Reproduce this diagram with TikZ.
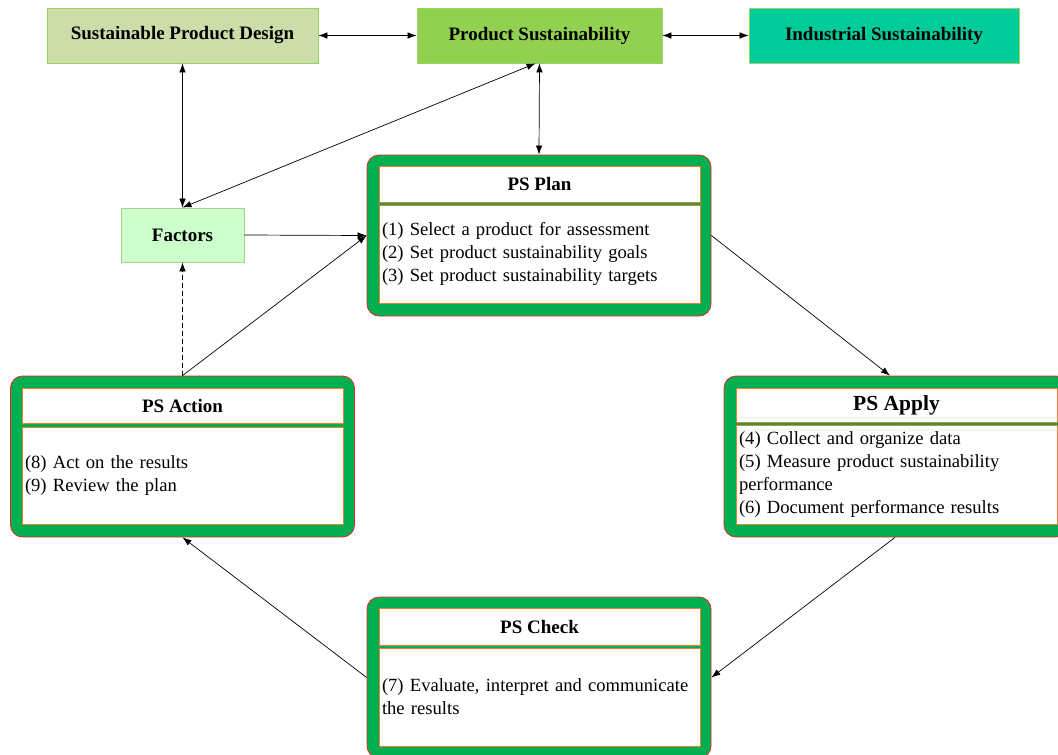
\documentclass[tikz,border=0pt]{standalone}
\usepackage{fontspec}
\setmainfont{Liberation Serif}
\usetikzlibrary{arrows.meta}

\definecolor{spdfill}{RGB}{205,221,170}
\definecolor{psfill}{RGB}{146,208,80}
\definecolor{isfill}{RGB}{0,204,153}
\definecolor{factfill}{RGB}{204,255,204}
\definecolor{lightedge}{RGB}{150,212,100}
\definecolor{factedge}{RGB}{169,209,142}
\definecolor{phasegreen}{RGB}{0,176,80}
\definecolor{phaseedge}{RGB}{230,40,40}
\definecolor{inneredge}{RGB}{237,125,49}

\newcommand{\txtfont}{\fontsize{19}{23}\selectfont}
\newcommand{\bodyfont}{\fontsize{18.6}{23}\selectfont}

\begin{document}
\begin{tikzpicture}[x=1pt,y=-1pt,
  topbox/.style={draw=lightedge, line width=0.8pt, inner sep=0pt,
    font=\bfseries\txtfont},
  phasebox/.style={draw=phaseedge, fill=phasegreen, line width=0.8pt,
    rounded corners=12pt, minimum width=344pt, minimum height=161pt, inner sep=0pt},
  phasehead/.style={draw=inneredge, fill=white, line width=0.8pt,
    minimum width=321pt, inner sep=0pt, font=\bfseries\txtfont},
  phasebody/.style={draw=inneredge, fill=white, line width=0.8pt,
    text width=315pt, inner sep=3pt, minimum height=98pt, align=left, font=\bodyfont},
  link/.style={line width=0.7pt, -{Latex[length=9pt,width=6.5pt]}},
  biglink/.style={line width=0.7pt, {Latex[length=9pt,width=6.5pt]}-{Latex[length=9pt,width=6.5pt]}}
]
\useasboundingbox (0,0) rectangle (1058,755);
\clip (0,0) rectangle (1058,755);

% top row
\node[topbox, fill=spdfill, minimum width=271pt, minimum height=55pt] (spd) at (182.5,35.5) {Sustainable Product Design};
\node[topbox, fill=psfill, minimum width=245pt, minimum height=55pt] (ps) at (539.5,35.5) {Product Sustainability};
\node[topbox, fill=isfill, minimum width=270pt, minimum height=55pt] (is) at (884,35.5) {Industrial Sustainability};

% factors
\node[topbox, draw=factedge, fill=factfill, minimum width=123pt, minimum height=54pt] (factors) at (182.5,235) {Factors};

% PS Plan
\node[phasebox] (plan) at (539,235.5) {};
\node[phasehead, minimum height=36pt] (planh) at (539.5,184) {PS Plan};
\node[phasebody] (planb) at (539.5,254) {(1) Select a product for assessment\\(2) Set product sustainability goals\\(3) Set product sustainability targets};

% PS Apply
\node[phasebox] (apply) at (896,456.5) {};
\node[phasehead, minimum height=34pt, font=\bfseries\fontsize{21.5}{25}\selectfont] (applyh) at (896.5,405.5) {PS Apply};
\node[phasebody, minimum height=99pt] (applyb) at (896.5,474.5) {(4) Collect and organize data\\(5) Measure product sustainability\\performance\\(6) Document performance results};

% PS Check
\node[phasebox] (check) at (539,677.5) {};
\node[phasehead, minimum height=37pt] (checkh) at (539.5,626.5) {PS Check};
\node[phasebody] (checkb) at (539.5,697) {(7) Evaluate, interpret and communicate\\the results};

% PS Action
\node[phasebox] (action) at (182.5,456.5) {};
\node[phasehead, minimum height=35pt] (actionh) at (182.5,405.5) {PS Action};
\node[phasebody, minimum height=97pt] (actionb) at (182.5,475.5) {(8) Act on the results\\(9) Review the plan};

% connectors
\draw[biglink] (spd.east) -- (ps.west);
\draw[biglink] (ps.east) -- (is.west);
\draw[biglink] (spd.south) -- (factors.north);
\draw[biglink] ([xshift=-4pt]ps.south) -- (factors.north);
\draw[biglink] (ps.south) -- (plan.north);
\draw[link] (factors.east) -- (plan.west);
\draw[link] (action.north) -- (plan.west);
\draw[link, dash pattern=on 5pt off 3pt] (action.north) -- (factors.south);
\draw[link] (plan.east) -- ([xshift=-6pt]apply.north);
\draw[link] ([xshift=-1pt]apply.south) -- (check.east);
\draw[link] (check.west) -- (action.south);
\end{tikzpicture}
\end{document}
